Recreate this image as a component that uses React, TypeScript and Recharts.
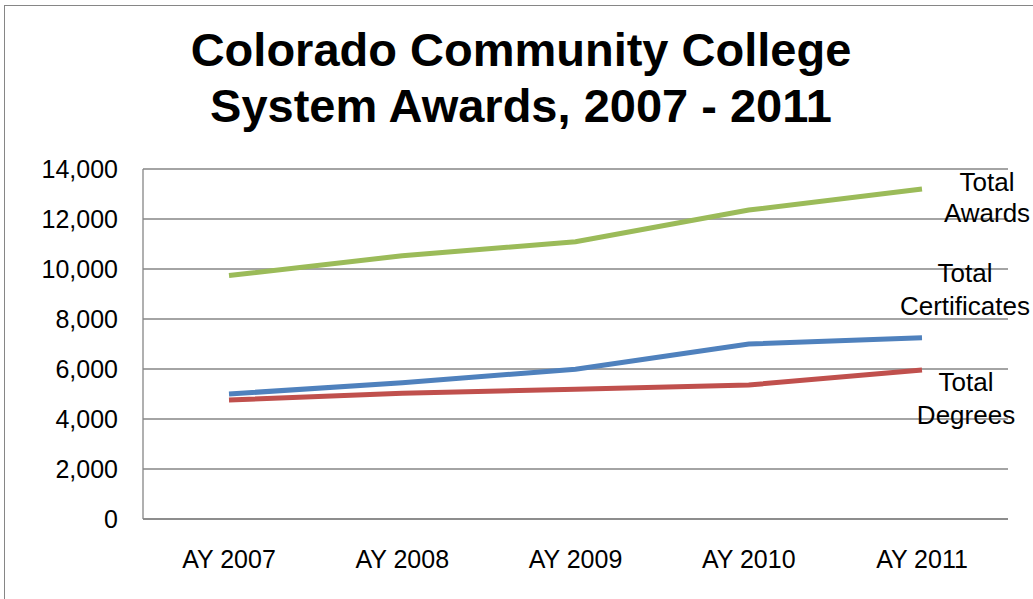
import { LineChart, Line, CartesianGrid, XAxis, YAxis, LabelList } from "recharts";

const years = ["AY 2007", "AY 2008", "AY 2009", "AY 2010", "AY 2011"];
const totalAwards = [9740, 10530, 11090, 12360, 13200];
const totalCertificates = [5000, 5450, 5990, 7000, 7250];
const totalDegrees = [4760, 5030, 5190, 5360, 5960];
const yTicks = [0, 2000, 4000, 6000, 8000, 10000, 12000, 14000];

const data = years.map((name, i) => ({
    name,
    awards: totalAwards[i],
    certificates: totalCertificates[i],
    degrees: totalDegrees[i],
}));

const FONT = "'Liberation Sans', Arial, sans-serif";
const GRID = "#868686";

// end-of-line labels, offset from the last point
const makeEndLabel = (lines: string[], dx: number, dys: number[]) => (props: any) => {
    const { x, y, index } = props;
    if (index !== years.length - 1) return null;
    return (
        <g>
            {lines.map((t, k) => (
                <text
                    key={k}
                    x={x + dx}
                    y={y + dys[k]}
                    dy="0.36em"
                    textAnchor="middle"
                    fontSize={26}
                    fontFamily={FONT}
                    fill="#000"
                >
                    {t}
                </text>
            ))}
        </g>
    );
};

export default function App() {
    return (
        <div style={{ position: "absolute", left: 0, top: 0, width: 1033, height: 599, background: "#fff", overflow: "hidden" }}>
            <div
                style={{
                    position: "absolute",
                    left: 4,
                    top: 5,
                    right: 0,
                    bottom: 0,
                    borderTop: `1px solid ${GRID}`,
                    borderLeft: `1px solid ${GRID}`,
                }}
            />
            <div
                style={{
                    position: "absolute",
                    left: 0,
                    top: 22,
                    width: 1042,
                    textAlign: "center",
                    fontFamily: FONT,
                    fontWeight: "bold",
                    fontSize: 47,
                    lineHeight: "56px",
                    color: "#000",
                }}
            >
                Colorado Community College
                <br />
                System Awards, 2007 - 2011
            </div>
            <div style={{ position: "absolute", left: 0, top: 0 }}>
                <LineChart
                    data={data}
                    width={1033}
                    height={599}
                    margin={{ top: 169, right: 25, bottom: 30, left: 43 }}
                    style={{ overflow: "visible" }}
                >
                    <CartesianGrid vertical={false} stroke={GRID} strokeWidth={1.3} />
                    <XAxis
                        dataKey="name"
                        height={50}
                        padding={{ left: 86, right: 86 }}
                        axisLine={{ stroke: GRID, strokeWidth: 1.3 }}
                        tickLine={false}
                        tickSize={0}
                        tickMargin={31}
                        tick={{ fill: "#000", fontSize: 25, fontFamily: FONT }}
                        interval={0}
                    />
                    <YAxis
                        width={100}
                        domain={[0, 14000]}
                        ticks={yTicks}
                        axisLine={{ stroke: GRID, strokeWidth: 1.3 }}
                        tickLine={false}
                        tickSize={0}
                        tickMargin={25}
                        tickFormatter={(v: number) => v.toLocaleString("en-US")}
                        tick={{ fill: "#000", fontSize: 25, fontFamily: FONT }}
                    />
                    <Line dataKey="awards" stroke="#9BBB59" strokeWidth={5} dot={false} isAnimationActive={false}>
                        <LabelList content={makeEndLabel(["Total", "Awards"], 65, [-7, 24])} />
                    </Line>
                    <Line dataKey="certificates" stroke="#4F81BD" strokeWidth={5} dot={false} isAnimationActive={false}>
                        <LabelList content={makeEndLabel(["Total", "Certificates"], 43, [-65, -32])} />
                    </Line>
                    <Line dataKey="degrees" stroke="#C0504D" strokeWidth={5} dot={false} isAnimationActive={false}>
                        <LabelList content={makeEndLabel(["Total", "Degrees"], 44, [12, 45])} />
                    </Line>
                </LineChart>
            </div>
        </div>
    );
}
